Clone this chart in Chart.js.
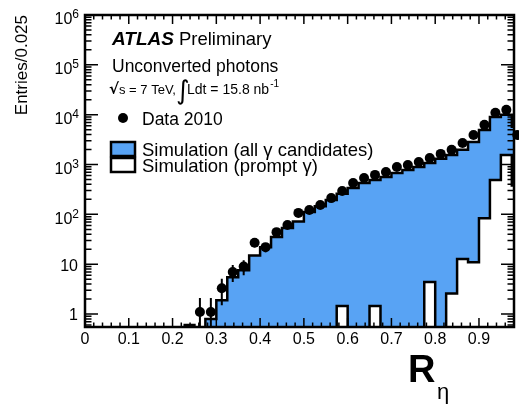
<!DOCTYPE html>
<html>
<head>
<meta charset="utf-8">
<script src="https://cdn.jsdelivr.net/npm/chart.js@4.4.0/dist/chart.umd.min.js"></script>
<style>
  html, body { margin: 0; padding: 0; background: #fff; overflow: hidden; }
</style>
</head>
<body>
<canvas id="c" width="519" height="405"></canvas>
<script>
// ===== R_eta, unconverted photons =====

const BIN_W = 0.025;
const BIN_LOW = [0.225, 0.25, 0.275, 0.3, 0.325, 0.35, 0.375, 0.4, 0.425, 0.45, 0.475,
  0.5, 0.525, 0.55, 0.575, 0.6, 0.625, 0.65, 0.675, 0.7, 0.725, 0.75, 0.775,
  0.8, 0.825, 0.85, 0.875, 0.9, 0.925, 0.95, 0.975];
const SIM_ALL = [0.6, 0, 0.8, 1.9, 5.5, 7.6, 15, 22, 35, 53, 72,
  112, 145, 195, 260, 340, 427, 490, 565, 680, 780, 895, 1075,
  1300, 1560, 1970, 2820, 4950, 9000, 10000, 5700];
const SIM_PROMPT = [0, 0, 0, 0, 0, 0, 0, 0, 0, 0, 0,
  0, 0, 0, 1.45, 0, 0, 1.45, 0, 0, 0, 0, 4.4,
  0, 2.6, 12.7, 11, 84, 490, 1560, 380];

const DATA_X = [0.2625, 0.2875, 0.3125, 0.3375, 0.3625, 0.3875, 0.4125, 0.4375, 0.4625, 0.4875,
  0.5125, 0.5375, 0.5625, 0.5875, 0.6125, 0.6375, 0.6625, 0.6875, 0.7125, 0.7375,
  0.7625, 0.7875, 0.8125, 0.8375, 0.8625, 0.8875, 0.9125, 0.9375, 0.9625, 0.9875];
const DATA_Y = [1.1, 1.1, 3.3, 7, 9, 27, 22, 44, 61, 107,
  122, 154, 212, 295, 427, 536, 620, 711, 894, 980,
  1125, 1357, 1635, 1970, 2710, 3910, 6250, 10900, 12500, 3900];
const DATA_ERR = [1.0, 1.0, 1.8, 2.6, 3, 5.2, 4.7, 6.6, 7.8, 10,
  11, 12, 15, 17, 21, 23, 25, 27, 30, 31,
  34, 37, 40, 44, 52, 63, 79, 104, 112, 62];

const X_TICKS = [0, 0.1, 0.2, 0.3, 0.4, 0.5, 0.6, 0.7, 0.8, 0.9];
const X_TICK_LABELS = ['0', '0.1', '0.2', '0.3', '0.4', '0.5', '0.6', '0.7', '0.8', '0.9'];
const Y_TICKS = [1, 10, 100, 1e3, 1e4, 1e5, 1e6];
const Y_TICK_BASE = ['1', '10', '10', '10', '10', '10', '10'];
const Y_TICK_EXP = ['', '', '2', '3', '4', '5', '6'];

const X_MIN = 0, X_MAX = 0.98, Y_MIN = 0.55, Y_MAX = 1e6;
const BLUE = '#58a3f4';
const FONT = 'Liberation Sans';

function histPoints(vals) {
  const pts = vals.map((v, i) => ({ x: BIN_LOW[i], y: v > 0 ? v : 0.05 }));
  const last = pts[pts.length - 1];
  pts.push({ x: BIN_LOW[BIN_LOW.length - 1] + BIN_W, y: last.y });
  return pts;
}

const frame = {
  id: 'frame',
  afterDatasetsDraw(chart) {
    const { ctx, chartArea: a, scales: { x, y } } = chart;
    ctx.save();
    ctx.strokeStyle = '#000';
    ctx.fillStyle = '#000';

    // error bars on data
    ctx.save();
    ctx.beginPath();
    ctx.rect(a.left, a.top, a.width, a.height);
    ctx.clip();
    ctx.lineWidth = 2;
    ctx.beginPath();
    DATA_X.forEach((xv, i) => {
      const px = x.getPixelForValue(xv);
      const lo = Math.max(DATA_Y[i] - DATA_ERR[i], 0.01);
      ctx.moveTo(px, y.getPixelForValue(lo));
      ctx.lineTo(px, y.getPixelForValue(DATA_Y[i] + DATA_ERR[i]));
    });
    ctx.stroke();
    ctx.restore();

    // ticks, inside the frame
    ctx.lineWidth = 1.5;
    ctx.beginPath();
    for (let k = 0; k * 0.02 <= X_MAX + 1e-9; k++) {
      const v = k * 0.02;
      const len = k % 5 === 0 ? 9 : 4.5;
      const px = x.getPixelForValue(v);
      ctx.moveTo(px, a.bottom); ctx.lineTo(px, a.bottom - len);
      ctx.moveTo(px, a.top); ctx.lineTo(px, a.top + len);
    }
    for (let d = -1; d <= 6; d++) {
      for (let m = 1; m <= 9; m++) {
        const v = m * Math.pow(10, d);
        if (v < Y_MIN || v > Y_MAX) continue;
        const len = m === 1 ? 13 : 6.5;
        const py = y.getPixelForValue(v);
        ctx.moveTo(a.left, py); ctx.lineTo(a.left + len, py);
        ctx.moveTo(a.right, py); ctx.lineTo(a.right - len, py);
      }
    }
    ctx.stroke();

    ctx.lineWidth = 2.5;
    ctx.strokeRect(a.left, a.top, a.width, a.height);

    // y tick labels with exponents
    ctx.textBaseline = 'middle';
    ctx.textAlign = 'right';
    Y_TICKS.forEach((v, i) => {
      const py = y.getPixelForValue(v);
      const R = 79;
      if (Y_TICK_EXP[i]) {
        ctx.font = `12px "${FONT}"`;
        const w = ctx.measureText(Y_TICK_EXP[i]).width;
        ctx.fillText(Y_TICK_EXP[i], R, py);
        ctx.font = `16px "${FONT}"`;
        ctx.fillText(Y_TICK_BASE[i], R - w, py + 5);
      } else {
        ctx.font = `16px "${FONT}"`;
        ctx.fillText(Y_TICK_BASE[i], R - 1, py + 2);
      }
    });
    ctx.restore();
  },
  afterDraw(chart) {
    const { ctx } = chart;
    ctx.save();
    ctx.fillStyle = '#000';
    ctx.strokeStyle = '#000';
    ctx.textAlign = 'left';
    ctx.textBaseline = 'alphabetic';

    // y axis title
    ctx.save();
    ctx.translate(27, 15);
    ctx.rotate(-Math.PI / 2);
    ctx.textAlign = 'right';
    ctx.font = `17px "${FONT}"`;
    ctx.fillText('Entries/0.025', 0, 0);
    ctx.restore();

    // x axis title
    ctx.font = `bold 38px "${FONT}"`;
    ctx.fillText('R', 408, 382);
    ctx.font = `22px "${FONT}"`;
    ctx.fillText('η', 437, 399);

    // labels
    ctx.font = `italic bold 19px "${FONT}"`;
    ctx.fillText('ATLAS', 112, 45);
    const wA = ctx.measureText('ATLAS').width;
    ctx.font = `18.5px "${FONT}"`;
    ctx.fillText('Preliminary', 112 + wA + 5, 45);
    ctx.font = `17.5px "${FONT}"`;
    ctx.fillText('Unconverted photons', 112, 72);

    ctx.font = `bold 15px "DejaVu Sans"`;
    ctx.fillText('√', 109, 94);
    ctx.font = `13px "${FONT}"`;
    ctx.fillText('s = 7 TeV,', 119, 94);
    ctx.font = `26px "DejaVu Sans"`;
    ctx.fillText('∫', 176, 99);
    ctx.font = `14px "${FONT}"`;
    ctx.fillText('Ldt = 15.8 nb', 187, 94);
    const wL = ctx.measureText('Ldt = 15.8 nb').width;
    ctx.font = `10px "${FONT}"`;
    ctx.fillText('-1', 187 + wL + 1, 87);

    // legend
    ctx.beginPath();
    ctx.arc(123, 118, 5, 0, Math.PI * 2);
    ctx.fill();
    ctx.font = `17.5px "${FONT}"`;
    ctx.fillText('Data 2010', 142, 125);

    ctx.lineWidth = 2.5;
    ctx.fillStyle = BLUE;
    ctx.fillRect(111, 142, 24, 14);
    ctx.strokeRect(111, 142, 24, 14);
    ctx.fillStyle = '#fff';
    ctx.fillRect(111, 158, 24, 14);
    ctx.strokeRect(111, 158, 24, 14);
    ctx.fillStyle = '#000';
    ctx.font = `18.5px "${FONT}"`;
    ctx.fillText('Simulation (all γ candidates)', 142, 156);
    ctx.fillText('Simulation (prompt γ)', 142, 172);
    ctx.restore();
  },
};

new Chart(document.getElementById('c'), {
  type: 'line',
  data: {
    datasets: [
      {
        label: 'Data 2010',
        data: DATA_X.map((xv, i) => ({ x: xv, y: DATA_Y[i] })),
        showLine: false,
        pointRadius: 5,
        pointBackgroundColor: '#000',
        pointBorderWidth: 0,
        clip: false,
        order: 0,
      },
      {
        label: 'Simulation (prompt γ)',
        data: histPoints(SIM_PROMPT),
        stepped: true,
        fill: 'start',
        backgroundColor: '#fff',
        borderColor: '#000',
        borderWidth: 2.5,
        pointRadius: 0,
        order: 1,
      },
      {
        label: 'Simulation (all γ candidates)',
        data: histPoints(SIM_ALL),
        stepped: true,
        fill: 'start',
        backgroundColor: BLUE,
        borderColor: '#000',
        borderWidth: 2.5,
        pointRadius: 0,
        order: 2,
      },
    ],
  },
  options: {
    responsive: false,
    animation: false,
    layout: { padding: { top: 15, right: 3, left: 0, bottom: 0 } },
    plugins: { legend: { display: false }, tooltip: { enabled: false } },
    scales: {
      x: {
        type: 'linear', min: X_MIN, max: X_MAX,
        grid: { display: false, drawTicks: false },
        border: { display: false },
        afterBuildTicks: s => { s.ticks = X_TICKS.map(v => ({ value: v })); },
        afterFit: s => { s.height = 78; },
        ticks: {
          autoSkip: false, maxRotation: 0, padding: 3, color: '#000',
          font: { family: FONT, size: 16 },
          callback: (v, i) => X_TICK_LABELS[i],
        },
      },
      y: {
        type: 'logarithmic', min: Y_MIN, max: Y_MAX,
        grid: { display: false, drawTicks: false },
        border: { display: false },
        ticks: { display: false },
        afterFit: s => { s.width = 85; },
      },
    },
  },
  plugins: [frame],
});
</script>
</body>
</html>
